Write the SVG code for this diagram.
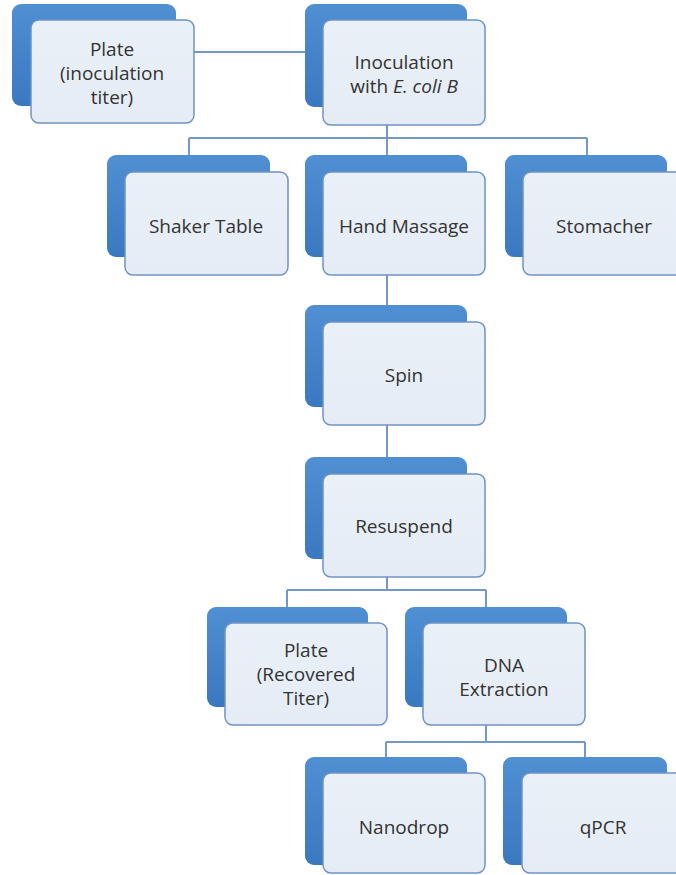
<svg xmlns="http://www.w3.org/2000/svg" width="676" height="875" viewBox="0 0 676 875">
<defs>
<linearGradient id="gBack" x1="0" y1="0" x2="0" y2="1">
<stop offset="0" stop-color="#4f8fd2"/>
<stop offset="1" stop-color="#3a78c0"/>
</linearGradient>
<linearGradient id="gFront" x1="0" y1="0" x2="0" y2="1">
<stop offset="0" stop-color="#eaf0f8"/>
<stop offset="1" stop-color="#e6ecf5"/>
</linearGradient>
<style>
.back{fill:url(#gBack);}
.front{fill:url(#gFront);stroke:#6f93c4;stroke-width:1.5;}
.t{font-family:"Open Sans","Liberation Sans",sans-serif;font-size:19px;fill:#333;text-anchor:middle;}
.c{fill:none;stroke:#7497c4;stroke-width:2;}
</style>
</defs>
<rect width="676" height="875" fill="#fff"/>
<g id="connectors">
<path class="c" d="M194 52H305"/>
<path class="c" d="M387 125V138M189 138H587M189 138V155M387 138V155M587 138V155"/>
<path class="c" d="M387 275V305"/>
<path class="c" d="M387 425V457"/>
<path class="c" d="M387 577V590M287 590H486M287 590V607M486 590V607"/>
<path class="c" d="M486 725V742M386 742H585M386 742V757M585 742V757"/>
</g>
<g id="plate1">
<rect class="back" x="12" y="4" width="164" height="102" rx="9"/>
<rect class="front" x="31" y="20" width="163" height="103" rx="8"/>
<text class="t" x="112" y="56">Plate<tspan x="112" dy="24">(inoculation</tspan><tspan x="112" dy="24">titer)</tspan></text>
</g>
<g id="inoculation">
<rect class="back" x="305" y="4" width="162" height="103" rx="9"/>
<rect class="front" x="323" y="20" width="162" height="105" rx="8"/>
<text class="t" x="404" y="69">Inoculation<tspan x="404" dy="24">with </tspan><tspan font-style="italic">E. coli B</tspan></text>
</g>
<g id="shaker">
<rect class="back" x="107" y="155" width="163" height="102" rx="9"/>
<rect class="front" x="125" y="172" width="163" height="103" rx="8"/>
<text class="t" x="206" y="233">Shaker Table</text>
</g>
<g id="hand">
<rect class="back" x="305" y="155" width="162" height="102" rx="9"/>
<rect class="front" x="323" y="172" width="162" height="103" rx="8"/>
<text class="t" x="404" y="233">Hand Massage</text>
</g>
<g id="stomacher">
<rect class="back" x="505" y="155" width="162" height="102" rx="9"/>
<rect class="front" x="523" y="172" width="162" height="103" rx="8"/>
<text class="t" x="604" y="233">Stomacher</text>
</g>
<g id="spin">
<rect class="back" x="305" y="305" width="162" height="102" rx="9"/>
<rect class="front" x="323" y="322" width="162" height="103" rx="8"/>
<text class="t" x="404" y="382">Spin</text>
</g>
<g id="resuspend">
<rect class="back" x="305" y="457" width="162" height="102" rx="9"/>
<rect class="front" x="323" y="474" width="162" height="103" rx="8"/>
<text class="t" x="404" y="533">Resuspend</text>
</g>
<g id="plate2">
<rect class="back" x="207" y="607" width="161" height="100" rx="9"/>
<rect class="front" x="225" y="623" width="162" height="102" rx="8"/>
<text class="t" x="306" y="657">Plate<tspan x="306" dy="24">(Recovered</tspan><tspan x="306" dy="24">Titer)</tspan></text>
</g>
<g id="dna">
<rect class="back" x="405" y="607" width="162" height="100" rx="9"/>
<rect class="front" x="423" y="623" width="162" height="102" rx="8"/>
<text class="t" x="504" y="672">DNA<tspan x="504" dy="24">Extraction</tspan></text>
</g>
<g id="nanodrop">
<rect class="back" x="305" y="757" width="162" height="108" rx="9"/>
<rect class="front" x="323" y="773" width="162" height="100" rx="8"/>
<text class="t" x="404" y="834">Nanodrop</text>
</g>
<g id="qpcr">
<rect class="back" x="503" y="757" width="164" height="108" rx="9"/>
<rect class="front" x="522" y="773" width="163" height="100" rx="8"/>
<text class="t" x="603" y="834">qPCR</text>
</g>
</svg>
